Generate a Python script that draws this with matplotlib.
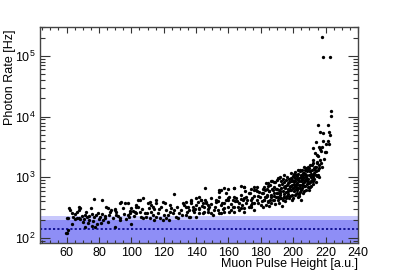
import matplotlib
matplotlib.use("Agg")
import matplotlib.pyplot as plt
from matplotlib.ticker import MultipleLocator, LogLocator, NullFormatter, FixedLocator

plt.rcParams["font.family"] = ["Liberation Sans", "DejaVu Sans"]
plt.rcParams["mathtext.default"] = "regular"

# low pulse heights (x < 105)
height_a = [60.0, 59.6, 60.0, 61.6, 62.0, 68.2, 67.8, 66.2, 74.8, 61.0, 64.0, 65.1, 66.2, 67.6, 68.6,
            71.3, 72.7, 73.9, 75.4, 77.0, 79.4, 80.5, 83.6, 84.6, 85.6, 87.7, 89.7, 90.8, 93.2, 96.3,
            94.8, 82.5, 85.6, 88.7, 92.8, 63.1, 70.2, 73.3, 76.4, 78.5, 71.3, 75.4, 77.4, 81.5, 89.7,
            100.0, 76.8, 81.7, 67.6, 89.7, 90.8, 93.8, 97.9, 97.9, 98.5, 103.1, 104.1,
            63.5, 65.5, 69.5, 70.8, 72.0, 74.0, 78.0, 79.8, 82.0, 84.0, 86.5, 87.0, 91.5, 93.0,
            95.5, 96.8, 99.0, 101.5, 102.5, 60.8]
rate_a = [122, 120, 214, 309, 289, 316, 289, 271, 309, 211, 224, 203, 211, 216, 203,
          239, 224, 230, 245, 224, 261, 222, 230, 328, 309, 286, 296, 271, 373, 373,
          316, 198, 186, 211, 216, 170, 186, 179, 191, 170, 153, 159, 150, 174, 150,
          170, 433, 423, 324, 289, 239, 396, 381, 239, 220, 320, 423,
          260, 245, 230, 205, 265, 195, 240, 205, 250, 215, 240, 265, 230, 195,
          250, 205, 280, 230, 265, 135]

# 99 < x < 148
height_b = [99.0, 100.0, 103.1, 104.1, 105.1, 107.1, 103.1, 105.1, 106.2, 108.2, 107.1,
            110.2, 111.3, 112.3, 113.3, 115.0, 115.4, 110.8, 114.3, 112.3,
            109.2, 111.3, 113.3, 115.4, 117.4, 119.4, 116.4, 114.3, 119.4, 120.5, 118.5,
            121.5, 123.6, 124.6, 125.6, 122.5, 126.6, 126.6,
            121.5, 127.7, 129.7, 130.8, 131.8, 132.8, 133.8, 134.8, 135.9, 136.9, 137.9, 138.9,
            140.0, 141.0, 142.0, 143.1, 144.1, 145.1, 146.2, 147.1, 135.9, 140.0, 142.0, 133.8,
            101.0, 106.5, 109.5, 117.0, 120.0, 124.0, 128.5, 131.0, 134.5, 137.0, 139.5, 123.0,
            129.0, 136.0]
rate_b = [255, 309, 350, 328, 423, 450, 255, 271, 224, 255, 211,
          373, 396, 350, 328, 423, 373, 309, 296, 271,
          224, 211, 239, 224, 211, 198, 255, 198, 396, 373, 328,
          289, 271, 309, 255, 239, 289, 525,
          211, 224, 255, 289, 373, 350, 396, 328, 289, 373, 328, 271,
          350, 396, 478, 423, 373, 328, 396, 350, 224, 224, 255, 239,
          280, 300, 260, 300, 240, 350, 320, 240, 270, 410, 300, 200,
          210, 220]

# 133 < x < 195
height_c = [145.7, 154.3, 159.4, 163.6, 169.7, 175.9, 176.9,
            136.9, 140.0, 143.1, 146.2, 149.2, 152.3, 154.3, 158.5, 160.5, 162.5, 164.6, 166.6,
            168.7, 170.8, 172.8, 174.8, 173.8,
            133.8, 137.9, 142.0, 145.1, 148.2, 151.3, 154.3, 157.4, 160.5, 163.6, 166.6, 169.7,
            172.8, 175.9,
            147.1, 149.2, 153.3, 155.4, 157.4, 159.4, 161.5, 163.6, 165.6, 167.7, 169.7, 173.8,
            175.9, 177.9, 180.0, 182.0, 184.1, 186.2, 188.2, 190.2, 192.3, 194.3,
            154.4, 155.4, 157.4, 163.6, 167.7, 169.7, 174.0, 175.9, 177.9, 179.0, 184.1, 186.2,
            188.2, 190.2, 191.3, 194.3,
            152.0, 156.0, 160.0, 164.0, 168.0, 171.0, 174.0, 178.0, 181.0, 183.0, 185.0, 188.0,
            190.0, 192.0, 194.0,
            141.5, 143.5, 145.5, 147.5, 149.5, 151.5, 153.5, 155.5, 157.5, 159.5, 161.5, 163.5,
            165.5, 167.5, 169.5, 171.5, 173.5, 175.5, 177.5, 179.5, 181.5, 183.5, 150.5, 156.5,
            162.5, 168.5, 174.5, 180.5, 144.5, 158.5, 170.5, 178.5]
rate_c = [656, 617, 635, 656, 700, 685, 617,
          423, 450, 423, 373, 450, 396, 478, 423, 478, 423, 450, 373,
          423, 478, 545, 450, 350,
          328, 289, 309, 271, 328, 289, 255, 309, 271, 328, 289, 309,
          328, 289,
          270, 255, 289, 255, 270, 328, 289, 270, 328, 309, 270, 328,
          373, 423, 350, 423, 396, 478, 423, 545, 450, 478,
          580, 617, 655, 655, 720, 700, 650, 617, 700, 580, 800, 870,
          830, 900, 960, 1090,
          420, 380, 450, 400, 440, 380, 420, 500, 560, 480, 600, 560,
          650, 600, 700,
          300, 340, 420, 300, 360, 330, 400, 350, 380, 420, 360, 480,
          400, 520, 450, 420, 560, 500, 600, 470, 650, 520, 240, 300,
          330, 350, 380, 400, 260, 550, 600, 380]

# dense cluster near the end point
height_d = [181.2, 181.5, 181.8, 182.1, 182.4, 182.7, 183.0, 183.3, 183.6, 183.9, 184.2, 184.6,
            185.0, 185.3, 185.6, 185.9, 186.2, 186.5, 186.8, 187.1, 187.4, 187.7, 188.0, 188.3,
            188.6, 188.9, 189.2, 189.5,
            190.0, 190.3, 190.6, 190.9, 191.2, 191.5, 191.8, 192.1, 192.4, 192.7, 193.0, 193.3,
            193.6, 193.9, 194.2, 194.5, 194.8,
            195.0, 195.2, 195.5, 195.8, 196.0, 196.3, 196.6, 196.9, 197.2, 197.5, 197.8, 198.1,
            198.4, 198.7, 199.0, 199.3, 199.6, 199.9,
            200.1, 200.3, 200.6, 200.9, 201.2, 201.4, 201.7, 202.0, 202.3, 202.6, 202.9, 203.2,
            203.5, 203.8, 204.1, 204.4, 204.7, 204.9, 200.5, 201.8, 203.0, 204.2,
            205.0, 205.2, 205.5, 205.8, 206.0, 206.3, 206.6, 206.9, 207.2, 207.5, 207.8, 208.1,
            208.4, 208.7, 209.0, 209.3, 209.6, 209.9, 205.3, 206.8, 208.2, 209.4, 207.0, 205.9,
            210.0, 210.2, 210.5, 210.8, 211.0, 211.3, 211.6, 211.9, 212.2, 212.5, 212.8, 210.4,
            211.1, 212.0, 212.6, 210.7,
            213.0, 213.3, 213.6, 213.9, 214.2, 214.5, 214.8, 215.1, 215.4, 215.7, 216.0, 216.3,
            213.8, 214.4, 215.2, 216.1, 212.4, 213.8, 215.3,
            196.4, 197.0, 197.6, 198.2, 198.8, 199.4, 200.0, 200.7, 201.3, 201.9, 202.5, 203.1,
            203.7, 204.3, 204.9, 205.5, 206.1, 206.7, 207.3, 207.9, 208.5, 209.1, 209.7, 210.3,
            210.9, 211.5,
            190.8, 192.0, 193.5, 195.4, 196.8, 198.0, 199.2, 200.8, 202.2, 203.6, 191.6, 194.0,
            198.5, 199.8, 201.0, 202.1, 203.4, 204.6, 205.7, 206.4, 207.6, 208.8, 209.8, 210.6,
            211.4, 212.3, 213.2, 214.1, 214.9, 206.2, 208.0, 210.1, 212.1, 204.0, 202.7, 200.4]
rate_d = [330, 560, 420, 700, 470, 610, 350, 820, 500, 650, 400, 720,
          340, 590, 430, 760, 520, 380, 650, 880, 610, 420, 700, 500,
          850, 360, 640, 470,
          560, 960, 430, 740, 620, 380, 1020, 520, 870, 680, 340, 780,
          600, 940, 540, 830, 660,
          400, 720, 580, 900, 1000, 500, 640, 800, 450, 950, 700, 620,
          1200, 880, 520, 760, 1050, 680,
          460, 860, 600, 730, 980, 540, 1100, 690, 810, 620, 900, 1150,
          760, 540, 1320, 660, 870, 1000, 790, 650, 470, 580,
          430, 950, 680, 1080, 560, 820, 1500, 720, 1150, 900, 620, 1000,
          780, 1250, 850, 1500, 700, 1100, 760, 600, 880, 950, 1300, 1200,
          620, 1600, 840, 1000, 720, 1300, 920, 1920, 780, 1100, 1400, 700,
          1080, 860, 1200, 1150,
          950, 1500, 2490, 1100, 1250, 1800, 2330, 1300, 2240, 1600, 1400, 1900,
          850, 1050, 1100, 1000, 3000, 3860, 7300,
          760, 590, 840, 720, 610, 900, 680, 1020, 860, 760, 950, 660,
          880, 740, 620, 890, 1000, 830, 720, 1100, 950, 700, 820, 1250,
          880, 1050,
          480, 450, 420, 460, 530, 500, 430, 520, 560, 490, 560, 470,
          980, 860, 1220, 1050, 980, 1100, 1300, 1180, 1000, 1350, 1450, 1100,
          1600, 1700, 1300, 1500, 1700, 960, 1400, 1250, 1000, 1250, 1300, 1150]

# steep rise and outliers
height_e = [216.5, 217.0, 217.2, 217.8, 218.0, 218.5, 219.0, 219.5, 220.0, 220.3, 221.4, 221.6,
            222.0, 222.5, 223.4, 223.4, 216.0, 218.5, 216.5, 222.0,
            217.5, 218.5, 222.5]
rate_e = [5600, 1700, 2700, 1500, 3200, 5400, 2000, 2600, 2600, 3600, 7300, 3950,
          3500, 4960, 10300, 12300, 3200, 4000, 2900, 5600,
          202000, 97000, 97000]

muon_height = height_a + height_b + height_c + height_d + height_e
photon_rate = rate_a + rate_b + rate_c + rate_d + rate_e

# dark-rate reference: mean and the two bands
dark_mean = 141
band_inner = (84, 198)
band_outer = (52, 230)

fig = plt.figure(figsize=(3.99, 2.70), dpi=100)
ax = fig.add_axes([0.1003, 0.1, 0.7970, 0.8])

ax.axhspan(*band_outer, color="#c8c8fc", lw=0, zorder=1)
ax.axhspan(*band_inner, color="#8e8ef6", lw=0, zorder=1)
ax.axhline(dark_mean, color="#0a0a8c", lw=1.3, ls=(0, (1.2, 1.2)), zorder=2)

ax.plot(muon_height, photon_rate, "o", ms=2.4, color="black", mec="none", zorder=3)

ax.set_yscale("log")
ax.set_xlim(43.6, 240)
ax.set_ylim(82.8, 3.0e5)

ax.xaxis.set_minor_locator(MultipleLocator(5))
ax.set_xticks([60, 80, 100, 120, 140, 160, 180, 200, 220, 240])
ax.yaxis.set_major_locator(FixedLocator([1e2, 1e3, 1e4, 1e5]))
ax.set_yticklabels(["$10^{2}$", "$10^{3}$", "$10^{4}$", "$10^{5}$"])
ax.yaxis.set_minor_locator(LogLocator(base=10, subs=range(2, 10)))
ax.yaxis.set_minor_formatter(NullFormatter())

ax.tick_params(which="both", direction="in", top=True, right=True, color="#333333", width=0.8,
               labelsize=9, pad=3)
ax.tick_params(axis="x", which="major", length=4.0)
ax.tick_params(axis="x", which="minor", length=2.0)
ax.tick_params(axis="y", which="major", length=7.0)
ax.tick_params(axis="y", which="minor", length=3.5)
for s in ax.spines.values():
    s.set_color("#444444")
    s.set_linewidth(1.0)

ax.set_xlabel("Muon Pulse Height [a.u.]", fontsize=9, loc="right")
ax.set_ylabel("Photon Rate [Hz]", fontsize=9, loc="top")
ax.xaxis.set_label_coords(1.0, -0.068)
ax.yaxis.set_label_coords(-0.075, 0.99)

fig.savefig("out.png", dpi=100)
